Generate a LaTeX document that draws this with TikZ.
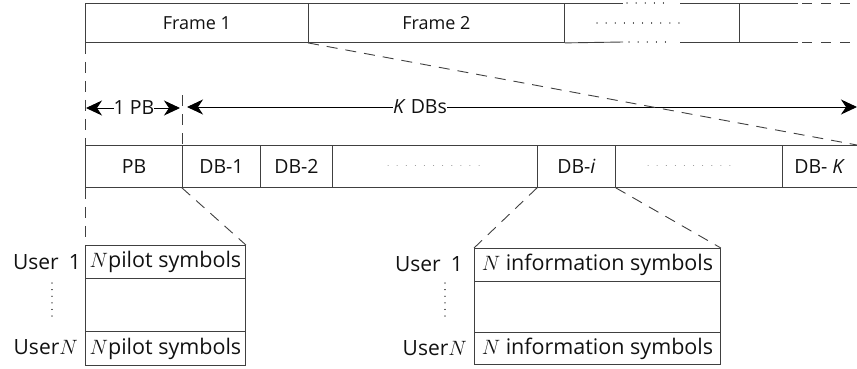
\documentclass[tikz,border=0pt]{standalone}
\usepackage{fontspec}
\setmainfont{Open Sans}
\usetikzlibrary{arrows.meta}
\definecolor{lc}{HTML}{404040}
\definecolor{tc}{HTML}{111111}
\begin{document}
\begin{tikzpicture}[x=1pt,y=-1pt,
  cell/.style={draw=lc, line width=0.9pt, anchor=north west, inner sep=0pt, text=tc},
  ftop/.style={font=\fontsize{18}{20}\selectfont},
  fmid/.style={font=\fontsize{19.5}{22}\selectfont},
  fusr/.style={font=\fontsize{21.5}{24}\selectfont},
  flab/.style={font=\fontsize{21}{24}\selectfont},
  ln/.style={draw=lc, line width=0.9pt},
  dsh/.style={draw=lc, line width=0.9pt, dash pattern=on 11pt off 8pt},
  dts/.style={draw=lc, line width=1.1pt, line cap=round, dash pattern=on 0.1pt off 9pt},
  vdts/.style={draw=lc, line width=1.1pt, line cap=round, dash pattern=on 0.1pt off 6.5pt},
  lbl/.style={inner sep=0pt, text=tc},
  arr/.style={draw=black, line width=0.9pt, -{Stealth[length=16pt,width=15pt,inset=5pt]}},
]
\useasboundingbox (0,0) rectangle (857,368);

% ---- frame row ----
\node[cell, ftop, minimum width=223pt, minimum height=39pt] (f1) at (85,3) {Frame 1};
\node[cell, ftop, minimum width=256pt, minimum height=39pt] (f2) at (308,3) {Frame 2};
\draw[ln] (f2.north east) -- (623,3);
\draw[ln] (f2.south east) -- (623,42);
\draw[dts] (627,3) -- (667,3);
\draw[dts] (629,42) -- (667,42);
\draw[dts] (597,23) -- (685,23);
\draw[ln] (680,3) -- (798,3);
\draw[ln] (680,42) -- (798,42);
\draw[ln] (739,3) -- (739,42);
\draw[dsh, dash pattern=on 10pt off 9pt] (802,3) -- (857,3);
\draw[dsh, dash pattern=on 10pt off 9pt] (802,42) -- (857,42);

% ---- arrows row ----
\node[lbl, fmid] (onepb) at (134,108) {1 PB};
\coordinate (pbL) at (86,108);
\coordinate (pbR) at (180,108);
\draw[arr] (onepb.west) -- (pbL);
\draw[arr] (onepb.east) -- (pbR);
\node[lbl, fmid] (kdb) at (420,107) {\textit{K} DBs};
\coordinate (dbL) at (187,107);
\coordinate (dbR) at (857,107);
\draw[arr] (kdb.west) -- (dbL);
\draw[arr] (kdb.east) -- (dbR);

% ---- block row ----
\node[cell, fmid, minimum width=97pt, minimum height=42pt] (pb) at (85,145) {PB};
\node[cell, fmid, minimum width=78pt, minimum height=42pt] (db1) at (182,145) {DB-1};
\node[cell, fmid, minimum width=72pt, minimum height=42pt] (db2) at (260,145) {DB-2};
\node[cell, minimum width=205pt, minimum height=42pt] (dA) at (332,145) {};
\node[cell, fmid, minimum width=78pt, minimum height=42pt] (dbi) at (537,145) {DB-\textit{i}};
\node[cell, minimum width=167pt, minimum height=42pt] (dB) at (615,145) {};
\node[lbl, fmid, anchor=north west, minimum width=75pt, minimum height=42pt] (dbK) at (782,145) {DB- \textit{K}};
\draw[ln] (dbK.north west) -- (dbK.north east);
\draw[ln] (dbK.south west) -- (dbK.south east);
\draw[dts, line width=0.9pt, draw=lc!60] (388,165) -- (486,165);
\draw[dts, line width=0.9pt, draw=lc!60] (648,165) -- (736,165);

% ---- user boxes ----
\node[cell, fusr, minimum width=160pt, minimum height=33pt] (l1) at (85,245) {$N$pilot symbols};
\node[cell, minimum width=160pt, minimum height=53pt] (l2) at (85,278) {};
\node[cell, fusr, minimum width=160pt, minimum height=34pt] (l3) at (85,331) {$N$pilot symbols};
\node[cell, fusr, minimum width=246pt, minimum height=33pt] (r1) at (474,248) {$N$ information symbols};
\node[cell, minimum width=246pt, minimum height=51pt] (r2) at (474,281) {};
\node[cell, fusr, minimum width=246pt, minimum height=32pt] (r3) at (474,332) {$N$ information symbols};

\node[lbl, flab, anchor=east] (lu1) at (81,262) {User\hspace{10pt}1};
\node[lbl, flab, anchor=east] (luN) at (78,347) {User$N$};
\node[lbl, flab, anchor=east] (ru1) at (463,264) {User\hspace{10pt}1};
\node[lbl, flab, anchor=east] (ruN) at (467,348) {User$N$};
\draw[vdts] (52,283) -- (52,321);
\draw[vdts] (445,283) -- (445,319);

% ---- dashed connectors ----
\coordinate (tick) at (182,95);
\coordinate (fend) at (857,145);
\draw[dsh] (f1.south west) -- (pb.north west);
\draw[dsh] (pb.south west) -- (l1.north west);
\draw[dsh] (tick) -- (db1.north west);
\draw[dsh] (f2.south west) -- (fend);
\draw[dsh] (db1.south west) -- (l1.north east);
\draw[dsh] (dbi.south west) -- (r1.north west);
\draw[dsh] (dbi.south east) -- (r1.north east);
\end{tikzpicture}
\end{document}
